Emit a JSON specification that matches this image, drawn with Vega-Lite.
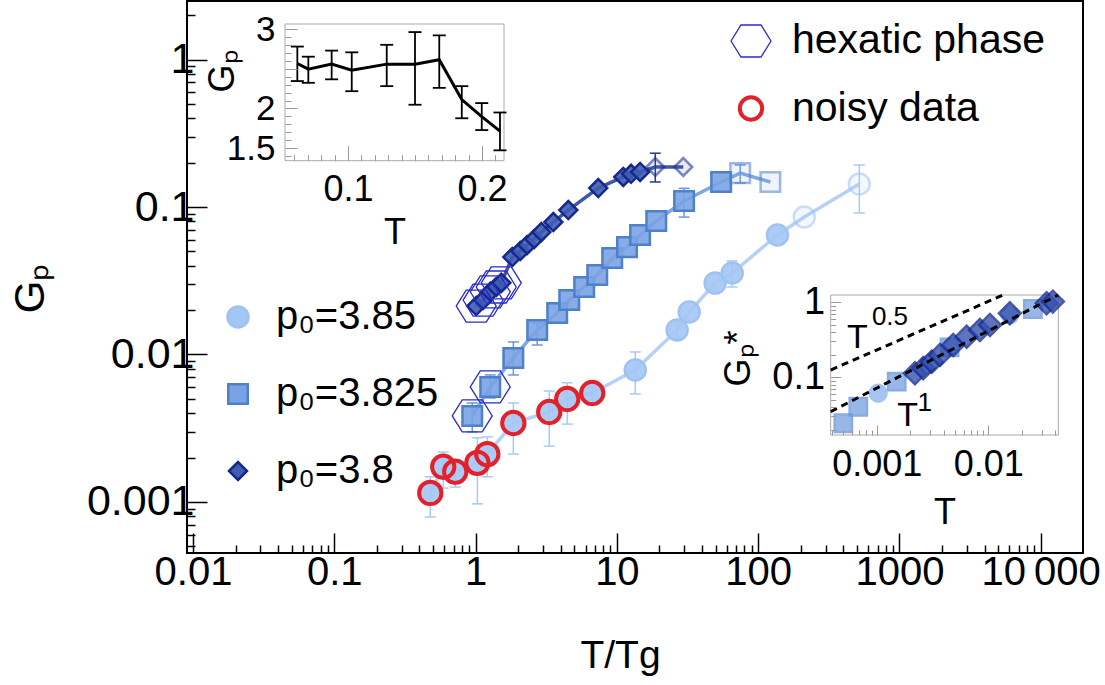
{
  "$schema": "https://vega.github.io/schema/vega-lite/v6.json",
  "description": "G_p versus T/Tg for three p0 values, with two insets",
  "width": 896,
  "height": 552,
  "autosize": {"type": "none"},
  "padding": {"left": 187, "top": 1, "right": 22, "bottom": 132},
  "config": {
    "font": "Liberation Sans",
    "view": {"stroke": "black", "strokeWidth": 2},
    "axis": {"labelColor": "black", "titleColor": "black", "titleFontWeight": "normal", "grid": false, "labelOverlap": false}
  },
  "datasets": {
    "main": [
      {"s": "p₀=3.85", "T": 0.478, "G": 0.00115, "lo": 0.00079, "hi": 0.00148},
      {"s": "p₀=3.85", "T": 0.59, "G": 0.00173, "lo": 0.00124, "hi": 0.00218},
      {"s": "p₀=3.85", "T": 0.718, "G": 0.0016, "lo": 0.00126, "hi": 0.00192},
      {"s": "p₀=3.85", "T": 1.03, "G": 0.00184, "lo": 0.00097, "hi": 0.00272},
      {"s": "p₀=3.85", "T": 1.21, "G": 0.00211, "lo": 0.00148, "hi": 0.00276},
      {"s": "p₀=3.85", "T": 1.85, "G": 0.00343, "lo": 0.00211, "hi": 0.00469},
      {"s": "p₀=3.85", "T": 3.32, "G": 0.00407, "lo": 0.00239, "hi": 0.00565},
      {"s": "p₀=3.85", "T": 4.45, "G": 0.00499, "lo": 0.00337, "hi": 0.00643},
      {"s": "p₀=3.85", "T": 6.69, "G": 0.00548, "lo": 0.00454, "hi": 0.00603},
      {"s": "p₀=3.85", "T": 13.5, "G": 0.00785, "lo": 0.0054, "hi": 0.0104},
      {"s": "p₀=3.85", "T": 26.7, "G": 0.01466, "lo": 0.0129, "hi": 0.0166},
      {"s": "p₀=3.85", "T": 32.5, "G": 0.0194},
      {"s": "p₀=3.85", "T": 49.6, "G": 0.0305},
      {"s": "p₀=3.85", "T": 65.5, "G": 0.0357, "lo": 0.0287, "hi": 0.0431},
      {"s": "p₀=3.85", "T": 137, "G": 0.0647},
      {"s": "p₀=3.85", "T": 212, "G": 0.0857},
      {"s": "p₀=3.85", "T": 520, "G": 0.1434, "lo": 0.0912, "hi": 0.193},
      {"s": "p₀=3.825", "T": 0.947, "G": 0.00383, "lo": 0.00298, "hi": 0.00469},
      {"s": "p₀=3.825", "T": 1.27, "G": 0.00602, "lo": 0.00507, "hi": 0.00726},
      {"s": "p₀=3.825", "T": 1.85, "G": 0.00947, "lo": 0.00726, "hi": 0.01216},
      {"s": "p₀=3.825", "T": 2.73, "G": 0.01466, "lo": 0.01159, "hi": 0.01637},
      {"s": "p₀=3.825", "T": 3.78, "G": 0.0191},
      {"s": "p₀=3.825", "T": 4.6, "G": 0.0234},
      {"s": "p₀=3.825", "T": 5.87, "G": 0.0287},
      {"s": "p₀=3.825", "T": 7.26, "G": 0.0346},
      {"s": "p₀=3.825", "T": 9.27, "G": 0.0451},
      {"s": "p₀=3.825", "T": 11.8, "G": 0.0535},
      {"s": "p₀=3.825", "T": 14.6, "G": 0.0646},
      {"s": "p₀=3.825", "T": 19.0, "G": 0.0805},
      {"s": "p₀=3.825", "T": 29.9, "G": 0.11, "lo": 0.0855, "hi": 0.134},
      {"s": "p₀=3.825", "T": 54.7, "G": 0.148},
      {"s": "p₀=3.825", "T": 74.6, "G": 0.17, "lo": 0.1457, "hi": 0.193},
      {"s": "p₀=3.825", "T": 122, "G": 0.148},
      {"s": "p₀=3.8", "T": 1.01, "G": 0.0213},
      {"s": "p₀=3.8", "T": 1.13, "G": 0.0234},
      {"s": "p₀=3.8", "T": 1.27, "G": 0.0266},
      {"s": "p₀=3.8", "T": 1.4, "G": 0.0287},
      {"s": "p₀=3.8", "T": 1.52, "G": 0.0306},
      {"s": "p₀=3.8", "T": 1.82, "G": 0.0458},
      {"s": "p₀=3.8", "T": 2.07, "G": 0.0503},
      {"s": "p₀=3.8", "T": 2.32, "G": 0.0553},
      {"s": "p₀=3.8", "T": 2.6, "G": 0.0607},
      {"s": "p₀=3.8", "T": 2.92, "G": 0.0677},
      {"s": "p₀=3.8", "T": 3.55, "G": 0.0791},
      {"s": "p₀=3.8", "T": 4.53, "G": 0.0954},
      {"s": "p₀=3.8", "T": 7.38, "G": 0.1346},
      {"s": "p₀=3.8", "T": 11.1, "G": 0.16},
      {"s": "p₀=3.8", "T": 12.6, "G": 0.168},
      {"s": "p₀=3.8", "T": 14.6, "G": 0.173},
      {"s": "p₀=3.8", "T": 18.7, "G": 0.187, "lo": 0.148, "hi": 0.232},
      {"s": "p₀=3.8", "T": 29.5, "G": 0.187}
    ],
    "flags": [
      {"flag": "hexatic phase", "T": 0.947, "G": 0.00383},
      {"flag": "hexatic phase", "T": 1.27, "G": 0.00602},
      {"flag": "hexatic phase", "T": 1.01, "G": 0.0213},
      {"flag": "hexatic phase", "T": 1.13, "G": 0.0234},
      {"flag": "hexatic phase", "T": 1.27, "G": 0.0266},
      {"flag": "hexatic phase", "T": 1.4, "G": 0.0287},
      {"flag": "hexatic phase", "T": 1.52, "G": 0.0306},
      {"flag": "noisy data", "T": 0.478, "G": 0.00115},
      {"flag": "noisy data", "T": 0.59, "G": 0.00173},
      {"flag": "noisy data", "T": 0.718, "G": 0.0016},
      {"flag": "noisy data", "T": 1.03, "G": 0.00184},
      {"flag": "noisy data", "T": 1.21, "G": 0.00211},
      {"flag": "noisy data", "T": 1.85, "G": 0.00343},
      {"flag": "noisy data", "T": 3.32, "G": 0.00407},
      {"flag": "noisy data", "T": 4.45, "G": 0.00499},
      {"flag": "noisy data", "T": 6.69, "G": 0.00548}
    ],
    "ins1": [
      {"T": 0.0622, "G": 2.568, "lo": 2.346, "hi": 2.782},
      {"T": 0.0704, "G": 2.496, "lo": 2.324, "hi": 2.654},
      {"T": 0.0878, "G": 2.56, "lo": 2.368, "hi": 2.731},
      {"T": 0.1028, "G": 2.483, "lo": 2.218, "hi": 2.709},
      {"T": 0.1289, "G": 2.56, "lo": 2.282, "hi": 2.804},
      {"T": 0.15, "G": 2.56, "lo": 2.047, "hi": 2.965},
      {"T": 0.1681, "G": 2.615, "lo": 2.26, "hi": 2.923},
      {"T": 0.1849, "G": 2.112, "lo": 1.876, "hi": 2.282},
      {"T": 0.1998, "G": 1.897, "lo": 1.727, "hi": 2.068},
      {"T": 0.2134, "G": 1.714, "lo": 1.471, "hi": 1.949}
    ],
    "collapse": [
      {"s": "p₀=3.825", "T": 0.000502, "G": 0.0244},
      {"s": "p₀=3.825", "T": 0.000684, "G": 0.0405},
      {"s": "p₀=3.85", "T": 0.00103, "G": 0.0612},
      {"s": "p₀=3.825", "T": 0.00151, "G": 0.0873},
      {"s": "p₀=3.85", "T": 0.0029, "G": 0.15},
      {"s": "p₀=3.825", "T": 0.0045, "G": 0.25},
      {"s": "p₀=3.85", "T": 0.0156, "G": 0.68},
      {"s": "p₀=3.825", "T": 0.0251, "G": 0.814},
      {"s": "p₀=3.8", "T": 0.0022, "G": 0.113},
      {"s": "p₀=3.8", "T": 0.00261, "G": 0.132},
      {"s": "p₀=3.8", "T": 0.00311, "G": 0.161},
      {"s": "p₀=3.8", "T": 0.00369, "G": 0.198},
      {"s": "p₀=3.8", "T": 0.00485, "G": 0.27},
      {"s": "p₀=3.8", "T": 0.0064, "G": 0.348},
      {"s": "p₀=3.8", "T": 0.00841, "G": 0.427},
      {"s": "p₀=3.8", "T": 0.01035, "G": 0.498},
      {"s": "p₀=3.8", "T": 0.0156, "G": 0.713},
      {"s": "p₀=3.8", "T": 0.0333, "G": 0.97},
      {"s": "p₀=3.8", "T": 0.0379, "G": 1.02}
    ],
    "plaw": [
      {"law": "T^0.5", "T": 0.000387, "G": 0.125},
      {"law": "T^0.5", "T": 0.01358, "G": 1.25},
      {"law": "T^1", "T": 0.000387, "G": 0.0348},
      {"law": "T^1", "T": 0.0424, "G": 1.25}
    ],
    "plabels": [
      {"part": "base", "txt": "T", "T": 0.000673, "G": 0.329},
      {"part": "sup", "txt": "0.5", "T": 0.001315, "G": 0.643},
      {"part": "base", "txt": "T", "T": 0.00189, "G": 0.03},
      {"part": "sup", "txt": "1", "T": 0.0027, "G": 0.0461}
    ]
  },
  "layer": [
    {
      "data": {"name": "main"},
      "layer": [
        {
          "mark": {"type": "line", "strokeWidth": 3.5, "opacity": 0.85},
          "encoding": {
            "x": {
              "field": "T", "type": "quantitative",
              "scale": {"type": "log", "domain": [0.009067, 19910], "nice": false},
              "axis": {
                "orient": "bottom", "domain": false, "zindex": 1, "tickCount": 200,
                "values": [0.01,0.02,0.03,0.04,0.05,0.06,0.07,0.08,0.09,0.1,0.2,0.3,0.4,0.5,0.6,0.7,0.8,0.9,1,2,3,4,5,6,7,8,9,10,20,30,40,50,60,70,80,90,100,200,300,400,500,600,700,800,900,1000,2000,3000,4000,5000,6000,7000,8000,9000,10000],
                "tickColor": "black", "tickWidth": 1.5,
                "tickSize": {"condition": {"test": "abs(log(datum.value)/LN10 - round(log(datum.value)/LN10)) < 0.001", "value": -20}, "value": -8},
                "labelExpr": "abs(log(datum.value)/LN10 - round(log(datum.value)/LN10)) < 0.001 ? (datum.value > 5000 ? '10\u2009000' : format(datum.value, '~g')) : ''",
                "labelFontSize": 40, "labelPadding": 19, "labelOverlap": false, "labelFlush": false, "labelBound": false,
                "title": "T/Tg", "titleFontSize": 39, "titleX": 433, "titleY": 102, "titleBaseline": "middle", "titleAlign": "center"
              }
            },
            "y": {
              "field": "G", "type": "quantitative",
              "scale": {"type": "log", "domain": [0.00045, 2.5], "nice": false},
              "axis": {
                "orient": "left", "domain": false, "zindex": 1, "tickCount": 200,
                "values": [0.0005,0.0006,0.0007,0.0008,0.0009,0.001,0.002,0.003,0.004,0.005,0.006,0.007,0.008,0.009,0.01,0.02,0.03,0.04,0.05,0.06,0.07,0.08,0.09,0.1,0.2,0.3,0.4,0.5,0.6,0.7,0.8,0.9,1,2],
                "tickColor": "black", "tickWidth": 1.5,
                "tickSize": {"condition": {"test": "abs(log(datum.value)/LN10 - round(log(datum.value)/LN10)) < 0.001", "value": -20}, "value": -8},
                "labelExpr": "abs(log(datum.value)/LN10 - round(log(datum.value)/LN10)) < 0.001 ? format(datum.value, '~g') : ''",
                "labelFontSize": 43, "labelPadding": 13, "labelOverlap": false, "labelFlush": false, "labelBound": false,
                "title": "Gₚ", "titleFontSize": 42, "titleX": -157, "titleY": 287, "titleAngle": -90, "titleBaseline": "middle", "titleAlign": "center"
              }
            },
            "color": {"field": "s", "type": "nominal", "scale": {"domain": ["p₀=3.85", "p₀=3.825", "p₀=3.8"], "range": ["#a9c9f5", "#6a98de", "#203a93"]}, "legend": null}
          }
        },
        {
          "transform": [{"filter": "isValid(datum.lo)"}],
          "mark": {"type": "rule", "strokeWidth": 1.5},
          "encoding": {
            "x": {"field": "T", "type": "quantitative"},
            "y": {"field": "lo", "type": "quantitative"},
            "y2": {"field": "hi"},
            "color": {"field": "s", "type": "nominal", "legend": null}
          }
        },
        {
          "transform": [{"filter": "isValid(datum.lo)"}],
          "mark": {"type": "tick", "orient": "horizontal", "size": 11, "thickness": 1.5, "opacity": 1},
          "encoding": {
            "x": {"field": "T", "type": "quantitative"},
            "y": {"field": "lo", "type": "quantitative"},
            "color": {"field": "s", "type": "nominal", "legend": null}
          }
        },
        {
          "transform": [{"filter": "isValid(datum.hi)"}],
          "mark": {"type": "tick", "orient": "horizontal", "size": 11, "thickness": 1.5, "opacity": 1},
          "encoding": {
            "x": {"field": "T", "type": "quantitative"},
            "y": {"field": "hi", "type": "quantitative"},
            "color": {"field": "s", "type": "nominal", "legend": null}
          }
        },
        {
          "mark": {"type": "point", "filled": true, "strokeWidth": 2.5, "opacity": 1},
          "encoding": {
            "x": {"field": "T", "type": "quantitative"},
            "y": {"field": "G", "type": "quantitative"},
            "shape": {"field": "s", "type": "nominal", "scale": {"domain": ["p₀=3.85", "p₀=3.825", "p₀=3.8"], "range": ["circle", "square", "diamond"]},
              "legend": {"title": null, "orient": "none", "legendX": 31, "legendY": 296, "labelFontSize": 40, "labelOffset": 18, "labelLimit": 400, "rowPadding": 37, "symbolStrokeWidth": 2.5, "padding": 0}},
            "fill": {"field": "s", "type": "nominal", "scale": {"domain": ["p₀=3.85", "p₀=3.825", "p₀=3.8"], "range": ["#a4c6f4", "#7aa3e3", "#3f5cb2"]},
              "legend": {"title": null, "orient": "none", "legendX": 31, "legendY": 296, "labelFontSize": 40, "labelOffset": 18, "labelLimit": 400, "rowPadding": 37, "symbolStrokeWidth": 2.5, "padding": 0}},
            "stroke": {"field": "s", "type": "nominal", "scale": {"domain": ["p₀=3.85", "p₀=3.825", "p₀=3.8"], "range": ["#9ec2f2", "#4f80cb", "#15298c"]},
              "legend": {"title": null, "orient": "none", "legendX": 31, "legendY": 296, "labelFontSize": 40, "labelOffset": 18, "labelLimit": 400, "rowPadding": 37, "symbolStrokeWidth": 2.5, "padding": 0}},
            "size": {"field": "s", "type": "nominal", "scale": {"domain": ["p₀=3.85", "p₀=3.825", "p₀=3.8"], "range": [441, 324, 484]},
              "legend": {"title": null, "orient": "none", "legendX": 31, "legendY": 296, "labelFontSize": 40, "labelOffset": 18, "labelLimit": 400, "rowPadding": 37, "symbolStrokeWidth": 2.5, "padding": 0}},
            "fillOpacity": {"condition": {"test": "(datum.s == 'p₀=3.85' && datum.T > 150) || (datum.s == 'p₀=3.825' && datum.T > 60) || (datum.s == 'p₀=3.8' && datum.T > 16)", "value": 0.12}, "value": 0.9},
            "strokeOpacity": {"condition": {"test": "(datum.s == 'p₀=3.85' && datum.T > 150) || (datum.s == 'p₀=3.825' && datum.T > 60) || (datum.s == 'p₀=3.8' && datum.T > 16)", "value": 0.55}, "value": 1}
          }
        },
        {
          "data": {"name": "flags"},
          "mark": {"type": "point", "filled": false, "opacity": 1},
          "encoding": {
            "x": {"field": "T", "type": "quantitative"},
            "y": {"field": "G", "type": "quantitative"},
            "shape": {"field": "flag", "type": "nominal", "scale": {"domain": ["hexatic phase", "noisy data"], "range": ["M-1,0L-0.5,-0.8L0.5,-0.8L1,0L0.5,0.8L-0.5,0.8Z", "circle"]},
              "legend": {"title": null, "orient": "none", "legendX": 543, "legendY": 19, "labelFontSize": 41, "labelOffset": 20, "labelLimit": 400, "rowPadding": 26, "padding": 0}},
            "stroke": {"field": "flag", "type": "nominal", "scale": {"domain": ["hexatic phase", "noisy data"], "range": ["#2a2ad0", "#e3212b"]},
              "legend": {"title": null, "orient": "none", "legendX": 543, "legendY": 19, "labelFontSize": 41, "labelOffset": 20, "labelLimit": 400, "rowPadding": 26, "padding": 0}},
            "strokeWidth": {"field": "flag", "type": "nominal", "scale": {"domain": ["hexatic phase", "noisy data"], "range": [1.3, 4]},
              "legend": {"title": null, "orient": "none", "legendX": 543, "legendY": 19, "labelFontSize": 41, "labelOffset": 20, "labelLimit": 400, "rowPadding": 26, "padding": 0}},
            "size": {"field": "flag", "type": "nominal", "scale": {"domain": ["hexatic phase", "noisy data"], "range": [1600, 500]},
              "legend": {"title": null, "orient": "none", "legendX": 543, "legendY": 19, "labelFontSize": 41, "labelOffset": 20, "labelLimit": 400, "rowPadding": 26, "padding": 0}}
          }
        }
      ],
      "resolve": {"scale": {"shape": "independent", "stroke": "independent", "strokeWidth": "independent", "size": "independent", "fill": "independent"}}
    },
    {
      "data": {"name": "ins1"},
      "layer": [
        {
          "data": {"values": [{}]},
          "mark": {"type": "rect", "fill": "white", "stroke": "#aaaaaa", "strokeWidth": 1},
          "encoding": {
            "x": {
              "datum": 0.053, "type": "quantitative",
              "scale": {"domain": [0.053, 0.2164], "range": [98, 317], "nice": false, "zero": false},
              "axis": {
                "orient": "bottom", "offset": -392.3, "domain": false, "zindex": 2, "tickCount": 200,
                "values": [0.06,0.07,0.08,0.09,0.1,0.11,0.12,0.13,0.14,0.15,0.16,0.17,0.18,0.19,0.2,0.21],
                "tickColor": "#999999", "tickWidth": 1,
                "tickSize": {"condition": {"test": "abs(datum.value*10 - round(datum.value*10)) < 0.001", "value": -15}, "value": -6},
                "labelExpr": "abs(datum.value*10 - round(datum.value*10)) < 0.001 ? format(datum.value, '~g') : ''",
                "labelFontSize": 36, "labelPadding": 27, "labelOverlap": false, "labelFlush": false, "labelBound": false,
                "title": "T", "titleFontSize": 36, "titleX": 207.5, "titleY": 72, "titleBaseline": "middle", "titleAlign": "center"
              }
            },
            "x2": {"datum": 0.2164},
            "y": {
              "datum": 1.34, "type": "quantitative",
              "scale": {"domain": [1.34, 3.067], "range": [159.7, 23], "nice": false, "zero": false},
              "axis": {
                "orient": "left", "offset": -98, "domain": false, "zindex": 2, "tickCount": 200,
                "values": [1.4,1.5,1.6,1.7,1.8,1.9,2,2.1,2.2,2.3,2.4,2.5,2.6,2.7,2.8,2.9,3],
                "tickColor": "#999999", "tickWidth": 1,
                "tickSize": {"condition": {"test": "abs(datum.value*2 - round(datum.value*2)) < 0.001", "value": -12}, "value": -6},
                "labelExpr": "datum.value == 1.5 ? '1.5' : (datum.value == 2 ? '2' : (datum.value == 3 ? '3' : ''))",
                "labelFontSize": 35, "labelPadding": 22, "labelOverlap": false, "labelFlush": false, "labelBound": false,
                "title": "Gₚ", "titleFontSize": 36, "titleX": -63, "titleY": 70, "titleAngle": -90, "titleBaseline": "middle", "titleAlign": "center"
              }
            },
            "y2": {"datum": 3.067}
          }
        },
        {
          "mark": {"type": "line", "color": "black", "strokeWidth": 3},
          "encoding": {"x": {"field": "T", "type": "quantitative"}, "y": {"field": "G", "type": "quantitative"}}
        },
        {
          "mark": {"type": "rule", "color": "black", "strokeWidth": 1.8},
          "encoding": {"x": {"field": "T", "type": "quantitative"}, "y": {"field": "lo", "type": "quantitative"}, "y2": {"field": "hi"}}
        },
        {
          "mark": {"type": "tick", "orient": "horizontal", "color": "black", "size": 13, "thickness": 1.8, "opacity": 1},
          "encoding": {"x": {"field": "T", "type": "quantitative"}, "y": {"field": "lo", "type": "quantitative"}}
        },
        {
          "mark": {"type": "tick", "orient": "horizontal", "color": "black", "size": 13, "thickness": 1.8, "opacity": 1},
          "encoding": {"x": {"field": "T", "type": "quantitative"}, "y": {"field": "hi", "type": "quantitative"}}
        }
      ]
    },
    {
      "data": {"name": "collapse"},
      "layer": [
        {
          "data": {"values": [{}]},
          "mark": {"type": "rect", "fill": "white", "stroke": "#aaaaaa", "strokeWidth": 1},
          "encoding": {
            "x": {
              "datum": 0.000387, "type": "quantitative",
              "scale": {"type": "log", "domain": [0.000387, 0.0424], "range": [643.7, 871.3], "nice": false},
              "axis": {
                "orient": "bottom", "offset": -118, "domain": false, "zindex": 2, "tickCount": 200,
                "values": [0.0004,0.0005,0.0006,0.0007,0.0008,0.0009,0.001,0.002,0.003,0.004,0.005,0.006,0.007,0.008,0.009,0.01,0.02,0.03,0.04],
                "tickColor": "#999999", "tickWidth": 1,
                "tickSize": {"condition": {"test": "abs(log(datum.value)/LN10 - round(log(datum.value)/LN10)) < 0.001", "value": -10}, "value": -5},
                "labelExpr": "abs(log(datum.value)/LN10 - round(log(datum.value)/LN10)) < 0.001 ? format(datum.value, '~g') : ''",
                "labelFontSize": 36, "labelPadding": 22, "labelOverlap": false, "labelFlush": false, "labelBound": false,
                "title": "T", "titleFontSize": 36, "titleX": 757.5, "titleY": 77, "titleBaseline": "middle", "titleAlign": "center"
              }
            },
            "x2": {"datum": 0.0424},
            "y": {
              "datum": 0.017, "type": "quantitative",
              "scale": {"type": "log", "domain": [0.017, 1.25], "range": [434, 294], "nice": false},
              "axis": {
                "orient": "left", "offset": -643.7, "domain": false, "zindex": 2, "tickCount": 200,
                "values": [0.02,0.03,0.04,0.05,0.06,0.07,0.08,0.09,0.1,0.2,0.3,0.4,0.5,0.6,0.7,0.8,0.9,1],
                "tickColor": "#999999", "tickWidth": 1,
                "tickSize": {"condition": {"test": "abs(log(datum.value)/LN10 - round(log(datum.value)/LN10)) < 0.001", "value": -10}, "value": -5},
                "labelExpr": "abs(log(datum.value)/LN10 - round(log(datum.value)/LN10)) < 0.001 ? format(datum.value, '~g') : ''",
                "labelFontSize": 38, "labelPadding": 16, "labelOverlap": false, "labelFlush": false, "labelBound": false,
                "title": "Gₚ*", "titleFontSize": 36, "titleX": -92.7, "titleY": 357, "titleAngle": -90, "titleBaseline": "middle", "titleAlign": "center"
              }
            },
            "y2": {"datum": 1.25}
          }
        },
        {
          "transform": [{"filter": "datum.s == 'p₀=3.825'"}],
          "mark": {"type": "point", "shape": "square", "size": 300, "filled": true, "fill": "#7fa6e4", "stroke": "#6f98dc", "strokeWidth": 2.5, "opacity": 0.8},
          "encoding": {"x": {"field": "T", "type": "quantitative"}, "y": {"field": "G", "type": "quantitative"}}
        },
        {
          "transform": [{"filter": "datum.s == 'p₀=3.85'"}],
          "mark": {"type": "point", "shape": "circle", "size": 300, "filled": true, "fill": "#8fb6ee", "stroke": "#8fb6ee", "strokeWidth": 2, "opacity": 0.8},
          "encoding": {"x": {"field": "T", "type": "quantitative"}, "y": {"field": "G", "type": "quantitative"}}
        },
        {
          "transform": [{"filter": "datum.s == 'p₀=3.8'"}],
          "mark": {"type": "point", "shape": "diamond", "size": 480, "filled": true, "fill": "#3552b0", "stroke": "#1a2f90", "strokeWidth": 2.5, "opacity": 0.8},
          "encoding": {"x": {"field": "T", "type": "quantitative"}, "y": {"field": "G", "type": "quantitative"}}
        },
        {
          "data": {"name": "plaw"},
          "mark": {"type": "line", "color": "black", "strokeWidth": 3, "strokeDash": [7, 5]},
          "encoding": {"x": {"field": "T", "type": "quantitative"}, "y": {"field": "G", "type": "quantitative"}, "detail": {"field": "law"}}
        },
        {
          "data": {"name": "plabels"},
          "transform": [{"filter": "datum.part == 'base'"}],
          "mark": {"type": "text", "fontSize": 34, "align": "center", "baseline": "middle", "color": "black"},
          "encoding": {"x": {"field": "T", "type": "quantitative"}, "y": {"field": "G", "type": "quantitative"}, "text": {"field": "txt"}}
        },
        {
          "data": {"name": "plabels"},
          "transform": [{"filter": "datum.part == 'sup'"}],
          "mark": {"type": "text", "fontSize": 26, "align": "center", "baseline": "middle", "color": "black"},
          "encoding": {"x": {"field": "T", "type": "quantitative"}, "y": {"field": "G", "type": "quantitative"}, "text": {"field": "txt"}}
        }
      ]
    }
  ],
  "resolve": {"scale": {"x": "independent", "y": "independent"}}
}
